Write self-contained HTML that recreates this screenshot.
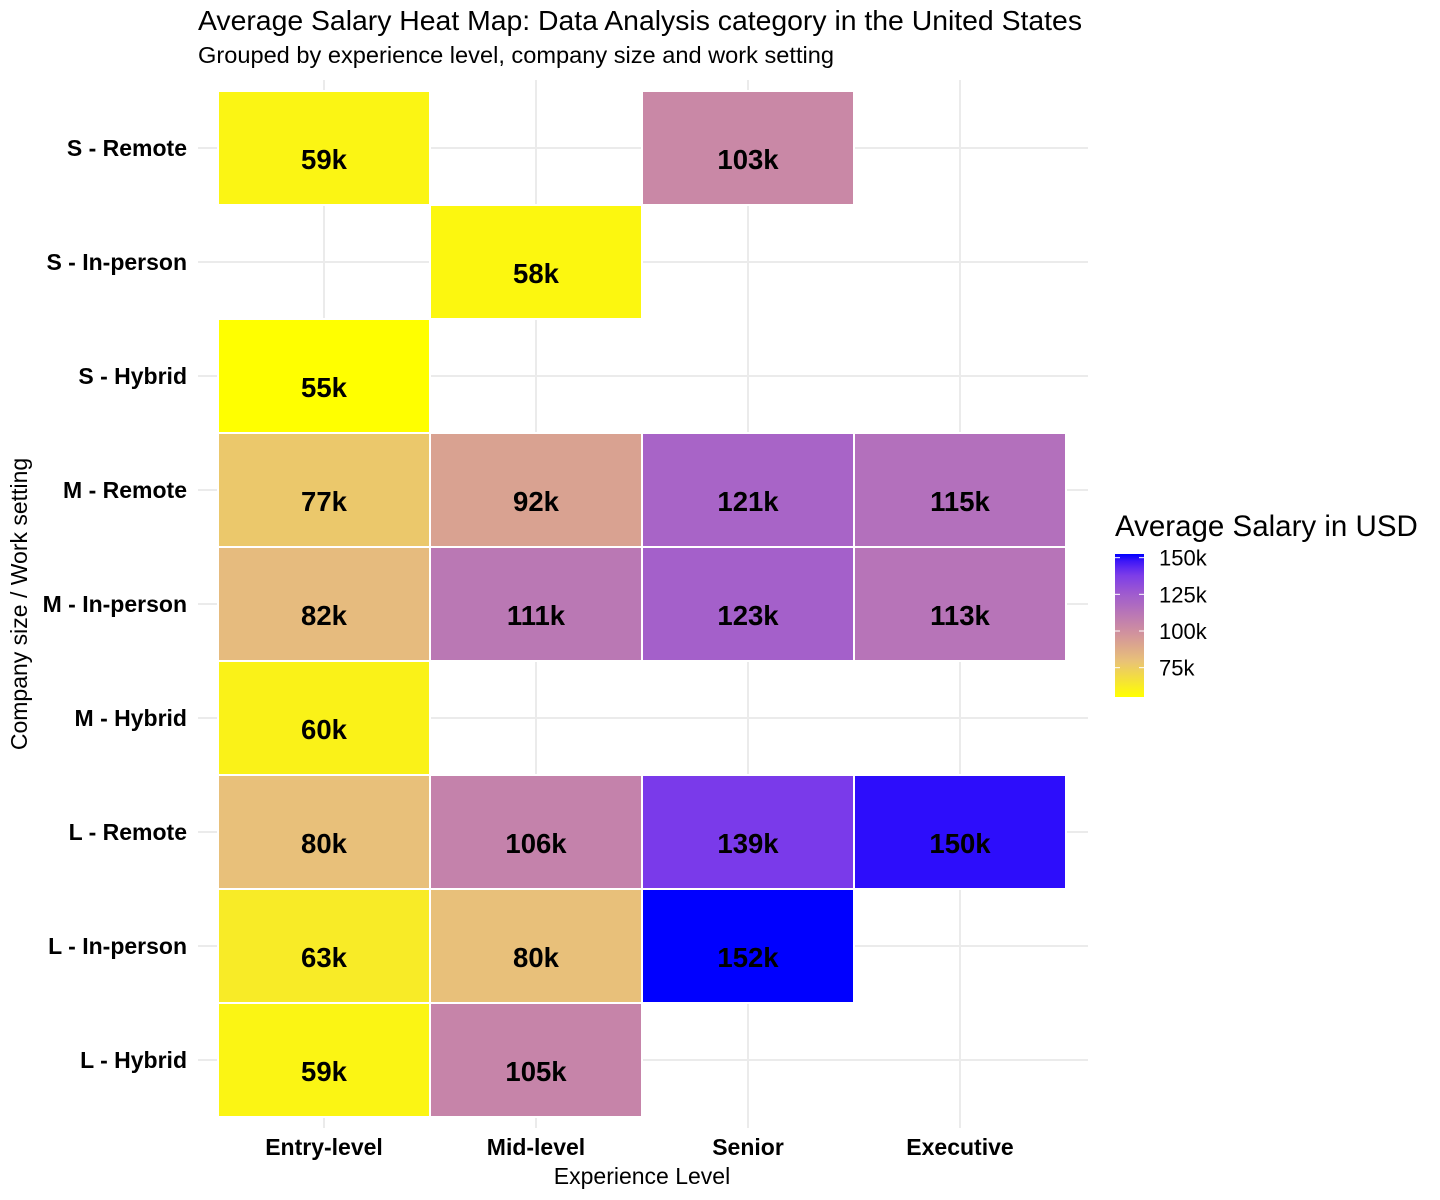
<!DOCTYPE html>
<html><head><meta charset="utf-8"><style>
html,body{margin:0;padding:0;background:#fff;}
svg{display:block;font-family:"Liberation Sans",sans-serif;}
</style></head><body>
<svg id="chart" width="1440" height="1200" viewBox="0 0 1440 1200">
<text x="198" y="30" font-size="28" textLength="884" lengthAdjust="spacingAndGlyphs" fill="#000">Average Salary Heat Map: Data Analysis category in the United States</text>
<text x="198" y="63" font-size="23" textLength="636" lengthAdjust="spacingAndGlyphs" fill="#000">Grouped by experience level, company size and work setting</text>
<g id="grid"></g>
<g id="tiles"></g>
<g id="labels"></g>
<g id="yaxis"></g>
<g id="xaxis"></g>
<text x="642" y="1184" font-size="23" text-anchor="middle">Experience Level</text>
<text transform="translate(27,604) rotate(-90)" font-size="23" text-anchor="middle">Company size / Work setting</text>
<g id="legend">
<text x="1115" y="536" font-size="29.5">Average Salary in USD</text>
<defs><linearGradient id="grad" x1="0" y1="1" x2="0" y2="0"></linearGradient></defs>
<rect x="1115" y="554" width="29" height="143" fill="url(#grad)"></rect>
</g>
</svg>
<script>
const columns = ["Entry-level","Mid-level","Senior","Executive"];
const rows = ["S - Remote","S - In-person","S - Hybrid","M - Remote","M - In-person","M - Hybrid","L - Remote","L - In-person","L - Hybrid"];
// values in k USD, null = no data; rows x columns
const values = [
  [59, null, 103, null],
  [null, 58, null, null],
  [55, null, null, null],
  [77, 92, 121, 115],
  [82, 111, 123, 113],
  [60, null, null, null],
  [80, 106, 139, 150],
  [63, 80, 152, null],
  [59, 105, null, null]
];
const legendTicks = [75, 100, 125, 150];
const scaleMin = 55, scaleMax = 152.5;

const NS = "http://www.w3.org/2000/svg";
const colW = 212, rowH = 114, x0 = 218, y0 = 91;
function xCenter(i){return x0 + colW*i + colW/2;}
function yCenter(j){return y0 + rowH*j + rowH/2;}
const stops = [[55,[255,255,0]],[80,[232,192,122]],[100,[207,142,160]],[125,[160,92,206]],[139,[122,58,234]],[150,[45,13,251]],[152,[0,0,255]]];
function color(v){
  if(v<=stops[0][0]) return rgb(stops[0][1]);
  for(let k=1;k<stops.length;k++){
    if(v<=stops[k][0]){
      const a=stops[k-1],b=stops[k],t=(v-a[0])/(b[0]-a[0]);
      return rgb(a[1].map((c,i)=>c+(b[1][i]-c)*t));
    }
  }
  return rgb(stops[stops.length-1][1]);
}
function rgb(c){return "rgb("+c.map(Math.round).join(",")+")";}
function mk(tag,attrs,parent){const e=document.createElementNS(NS,tag);for(const k in attrs)e.setAttribute(k,attrs[k]);parent.appendChild(e);return e;}

const grid=document.getElementById("grid");
rows.forEach((r,j)=>{
  const l=mk("line",{x1:198,x2:1088,y1:yCenter(j),y2:yCenter(j),stroke:"#ebebeb","stroke-width":2},grid);
  
  
});
columns.forEach((c,i)=>{
  const l=mk("line",{x1:xCenter(i),x2:xCenter(i),y1:80,y2:1128,stroke:"#ebebeb","stroke-width":2},grid);
  
  
});

const tiles=document.getElementById("tiles"), labels=document.getElementById("labels");
values.forEach((row,j)=>row.forEach((v,i)=>{
  if(v===null) return;
  const r=mk("rect",{x:xCenter(i)-colW/2,y:yCenter(j)-rowH/2,width:colW,height:rowH,fill:color(v),stroke:"#fff","stroke-width":2},tiles);
  
  
  const t=mk("text",{x:xCenter(i),y:yCenter(j)+21,"font-size":27.5,"font-weight":"bold","text-anchor":"middle",fill:"#000"},labels);
  t.textContent=v+"k";
  
  
}));

const ya=document.getElementById("yaxis");
rows.forEach((r,j)=>{
  const t=mk("text",{x:187,y:yCenter(j)+8,"font-size":23,"font-weight":"bold","text-anchor":"end"},ya);
  t.textContent=r;
  
  
});
const xa=document.getElementById("xaxis");
columns.forEach((c,i)=>{
  const t=mk("text",{x:xCenter(i),y:1155,"font-size":23,"font-weight":"bold","text-anchor":"middle"},xa);
  t.textContent=c;
  
  
});

const grad=document.getElementById("grad");
for(let k=0;k<=20;k++){
  const v=scaleMin+(scaleMax-scaleMin)*k/20;
  mk("stop",{offset:(k*5)+"%","stop-color":color(v)},grad);
}
const leg=document.getElementById("legend");
const barTop=554,barH=143;
function legY(v){return barTop+barH*(scaleMax-v)/(scaleMax-scaleMin);}
legendTicks.forEach(v=>{
  const y=legY(v);
  mk("line",{x1:1115,x2:1120,y1:y,y2:y,stroke:"#fff","stroke-width":1},leg);
  mk("line",{x1:1139,x2:1144,y1:y,y2:y,stroke:"#fff","stroke-width":1},leg);
  const t=mk("text",{x:1159,y:y+8,"font-size":22},leg);
  t.textContent=v+"k";
  
  
});
</script>
</body></html>
